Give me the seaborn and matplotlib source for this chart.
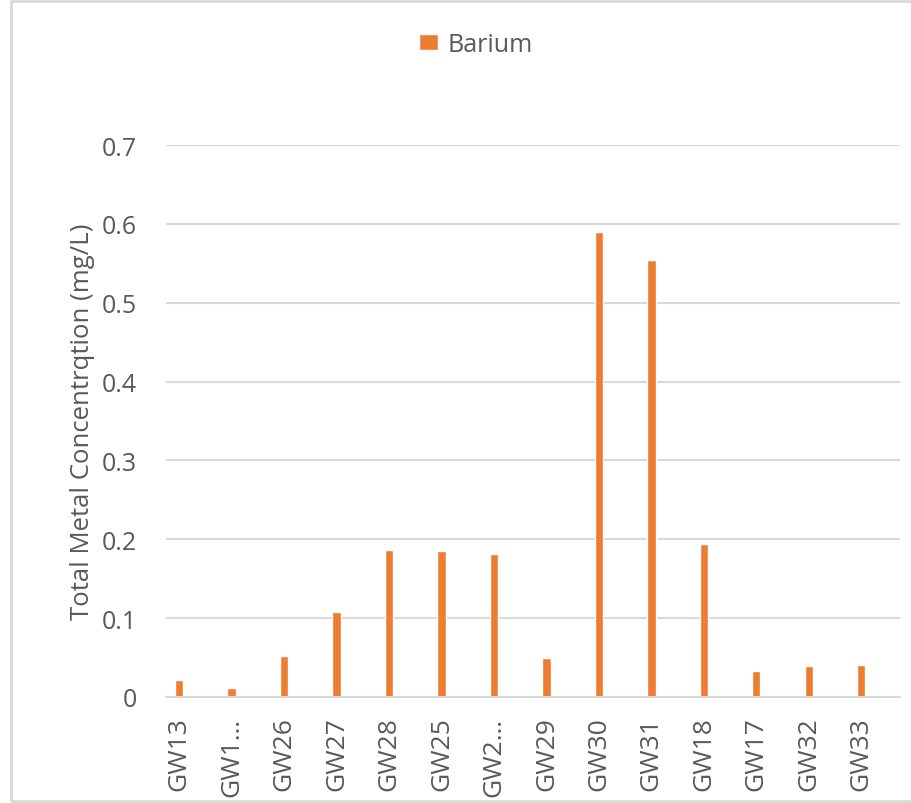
import matplotlib
matplotlib.use("Agg")
import matplotlib.pyplot as plt
import seaborn as sns
import pandas as pd
from matplotlib.patches import Rectangle

categories = ["GW13", "GW1…", "GW26", "GW27", "GW28", "GW25", "GW2…",
              "GW29", "GW30", "GW31", "GW18", "GW17", "GW32", "GW33"]
barium = [0.021, 0.011, 0.052, 0.108, 0.187, 0.185, 0.181,
          0.050, 0.590, 0.554, 0.194, 0.033, 0.039, 0.040]
yticks = [0, 0.1, 0.2, 0.3, 0.4, 0.5, 0.6, 0.7]
ytick_labels = ["0", "0.1", "0.2", "0.3", "0.4", "0.5", "0.6", "0.7"]

df = pd.DataFrame({"Sample": categories, "Barium": barium})

sns.set_theme(style="white")
plt.rcParams["font.family"] = ["Open Sans", "DejaVu Sans"]

TEXT = "#595959"
GRID = "#D9D9D9"
ORANGE = "#ED7D31"

fig = plt.figure(figsize=(9.12, 8.04), dpi=100)
ax = fig.add_axes([166/912, 1 - 698/804, (900-166)/912, (698-146)/804])

sns.barplot(data=df, x="Sample", y="Barium", color=ORANGE, width=0.16,
            saturation=1, ax=ax, label="Barium")

ax.set_xlim(-0.25, 13.74)
ax.set_ylim(0, 0.7)
ax.set_yticks(yticks)
ax.set_yticklabels(ytick_labels)
ax.yaxis.grid(True, color=GRID, linewidth=1.5)
ax.set_axisbelow(True)
for s in ["top", "right", "left"]:
    ax.spines[s].set_visible(False)
ax.spines["bottom"].set_color(GRID)
ax.spines["bottom"].set_linewidth(1.5)
ax.tick_params(axis="y", length=0, pad=21, labelsize=18, labelcolor=TEXT)
ax.tick_params(axis="x", length=0, pad=14, labelsize=19, labelcolor=TEXT,
               labelrotation=90)
ax.set_xlabel("")
ax.set_ylabel("Total Metal Concentrqtion (mg/L)", fontsize=18.5, color=TEXT,
              labelpad=5)

leg = ax.legend(loc="center", bbox_to_anchor=(476/912, 1 - 45/804),
                bbox_transform=fig.transFigure, frameon=False, fontsize=18,
                handlelength=0.75, handleheight=0.6, handletextpad=0.4)
for t in leg.get_texts():
    t.set_color(TEXT)

fig.patches.append(Rectangle((11/912, 2/804), 1.2, 1 - 4/804,
                             transform=fig.transFigure, fill=False,
                             edgecolor=GRID, linewidth=2))

fig.savefig("out.png", dpi=100)
